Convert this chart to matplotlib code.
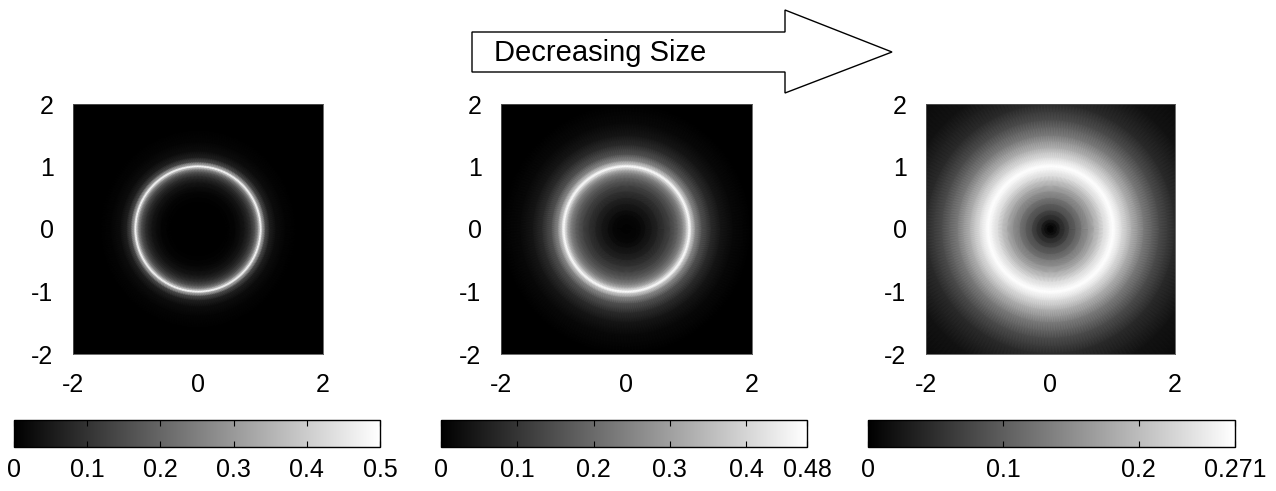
import matplotlib
matplotlib.use("Agg")
import matplotlib.pyplot as plt
import numpy as np
from matplotlib.patches import Polygon

plt.rcParams['font.family'] = ['Liberation Sans', 'DejaVu Sans']
plt.rcParams['axes.unicode_minus'] = False

# radial intensity profiles (radius, intensity)
r1 = [0.0, 0.4, 0.6, 0.75, 0.85, 0.92, 0.97, 1.0, 1.03, 1.08, 1.15, 1.25, 1.4, 1.6, 3.0]
v1 = [0.0, 0.0, 0.012, 0.045, 0.1, 0.18, 0.32, 0.5, 0.32, 0.14, 0.06, 0.025, 0.008, 0.0, 0.0]

r2 = [0.0, 0.15, 0.3, 0.5, 0.7, 0.82, 0.9, 0.96, 1.0, 1.04, 1.1, 1.2, 1.35, 1.5, 1.7, 2.0, 3.0]
v2 = [0.005, 0.01, 0.03, 0.07, 0.13, 0.19, 0.26, 0.37, 0.48, 0.37, 0.25, 0.15, 0.08, 0.04, 0.015, 0.0, 0.0]

r3 = [0.0, 0.05, 0.15, 0.3, 0.5, 0.7, 0.85, 0.95, 1.0, 1.05, 1.15, 1.3, 1.5, 1.75, 2.0, 2.4, 3.0]
v3 = [0.0, 0.01, 0.04, 0.08, 0.13, 0.185, 0.235, 0.26, 0.271, 0.26, 0.23, 0.185, 0.13, 0.08, 0.045, 0.02, 0.008]

vmax = [0.5, 0.48, 0.271]
cb_ticks = [[0, 0.1, 0.2, 0.3, 0.4, 0.5],
            [0, 0.1, 0.2, 0.3, 0.4, 0.48],
            [0, 0.1, 0.2, 0.271]]
cb_labels = [["0", "0.1", "0.2", "0.3", "0.4", "0.5"],
             ["0", "0.1", "0.2", "0.3", "0.4", "0.48"],
             ["0", "0.1", "0.2", "0.271"]]
axis_ticks = [-2, 0, 2]
yaxis_ticks = [-2, -1, 0, 1, 2]
arrow_text = "Decreasing Size"

W, H = 1276, 491
fig = plt.figure(figsize=(W / 100, H / 100), dpi=100)

def box(x0, y0, x1, y1):
    # pixel box -> figure fraction
    return [x0 / W, 1 - y1 / H, (x1 - x0) / W, (y1 - y0) / H]

img_boxes = [(73, 104, 323, 354), (501, 104, 752, 354), (926, 104, 1175, 354)]
cb_boxes = [(14, 420, 380, 447), (441, 420, 807, 447), (868, 420, 1235, 447)]

theta = np.linspace(0, 2 * np.pi, 241)
for i, (r, v) in enumerate([(r1, v1), (r2, v2), (r3, v3)]):
    ax = fig.add_axes(box(*img_boxes[i]))
    R, T = np.meshgrid(np.array(r), theta)
    C = np.tile(np.array(v), (len(theta), 1))
    m = ax.pcolormesh(R * np.cos(T), R * np.sin(T), C, cmap='gray',
                      vmin=0, vmax=vmax[i], shading='gouraud')
    ax.set_xlim(-2, 2)
    ax.set_ylim(-2, 2)
    ax.set_xticks(axis_ticks)
    ax.set_yticks(yaxis_ticks)
    ax.tick_params(length=0, labelsize=18, pad=14)
    ax.tick_params(axis='x', pad=14)
    for s in ax.spines.values():
        s.set_linewidth(0.6)
        s.set_color('#555555')

    cax = fig.add_axes(box(*cb_boxes[i]))
    cb = fig.colorbar(m, cax=cax, orientation='horizontal')
    cb.set_ticks(cb_ticks[i])
    cb.set_ticklabels(cb_labels[i])
    cax.tick_params(axis='x', direction='in', length=4, width=0.8,
                    top=True, bottom=True, labelsize=18, pad=8)
    cb.outline.set_linewidth(1.0)

# arrow at the top
aax = fig.add_axes([0, 0, 1, 1])
aax.set_xlim(0, W)
aax.set_ylim(H, 0)
aax.axis('off')
aax.add_patch(Polygon([(472, 32), (785, 32), (785, 10), (892, 52), (785, 93),
                       (785, 72), (472, 72)], closed=True, facecolor='white',
                      edgecolor='black', lw=1.0))
aax.text(494, 53, arrow_text, fontsize=21, va='center', ha='left')

fig.savefig("out.png", dpi=100)
